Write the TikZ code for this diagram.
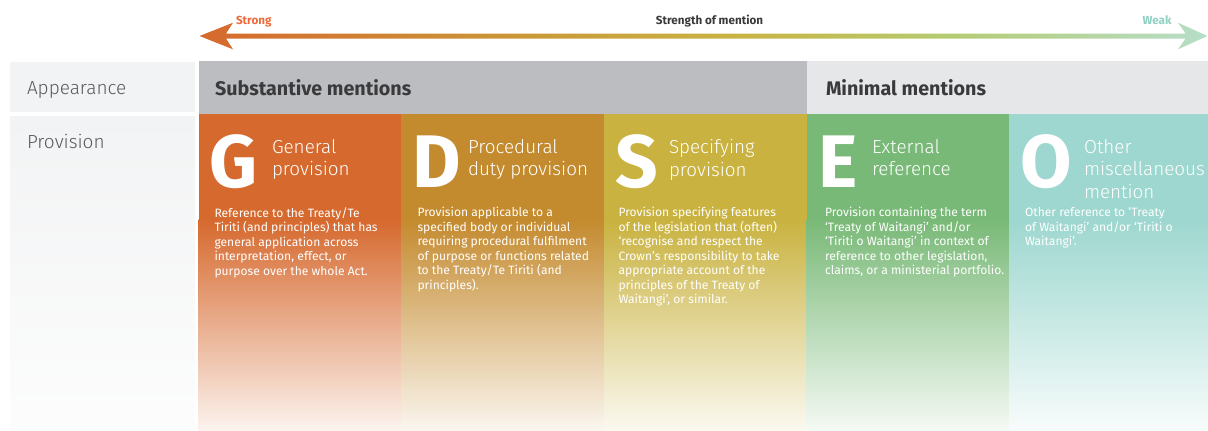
\documentclass[tikz,border=0pt]{standalone}
\usepackage{fontspec}
\setmainfont{Fira Sans}
\IfFontExistsTF{Fira Sans Light}{\newfontfamily\lightfont{Fira Sans Light}}{\newfontfamily\lightfont{Fira Sans}}
\usetikzlibrary{calc}

\definecolor{gencol}{HTML}{D6692E}
\definecolor{proccol}{HTML}{C48A2E}
\definecolor{speccol}{HTML}{C9B23F}
\definecolor{extcol}{HTML}{79B977}
\definecolor{othcol}{HTML}{9DD7CF}
\definecolor{substgrey}{HTML}{BCBDC0}
\definecolor{minigrey}{HTML}{E6E7E8}
\definecolor{labbox}{HTML}{F2F3F4}
\definecolor{labtext}{HTML}{58595B}
\definecolor{hdrtext}{HTML}{3A3A3C}
\definecolor{strongcol}{HTML}{EC6A3A}
\definecolor{weakcol}{HTML}{8ED0C1}
\definecolor{arrmid}{HTML}{C99B38}
\definecolor{arryel}{HTML}{C9B444}
\definecolor{arrgrn}{HTML}{B5CB72}
\definecolor{arrend}{HTML}{B6DEC9}

\pgfdeclarehorizontalshading{strength}{100bp}{color(0bp)=(gencol); color(25bp)=(gencol); color(42bp)=(arrmid); color(52bp)=(arryel); color(62bp)=(arrgrn); color(75bp)=(arrend); color(100bp)=(arrend)}

\begin{document}
\begin{tikzpicture}[x=0.025cm, y=-0.025cm,
		every node/.style={inner sep=0pt, outer sep=0pt},
		rowlabel/.style={anchor=base west, text=labtext, font=\lightfont\fontsize{13.5}{16}\selectfont},
		header/.style={anchor=base west, text=hdrtext, font=\fontsize{14}{16}\selectfont\bfseries},
		scalelabel/.style={anchor=base west, font=\fontsize{8.3}{10}\selectfont\bfseries},
		bigletter/.style={anchor=base west, text=white, font=\fontsize{53}{53}\selectfont\bfseries},
		title/.style={anchor=north west, align=left, text=white, font=\lightfont\fontsize{13.4}{16.3}\selectfont},
		body/.style={anchor=north west, align=left, text=white, font=\fontsize{8.6}{10.3}\selectfont}]
		
		\useasboundingbox (0,0) rectangle (1208,430);
		
		% strength arrow
		\coordinate (strong) at (199.5,36);
		\coordinate (weak) at (1207.5,36);
		\shade[shading=strength] (strong) -- ++(33.5,-13.3) -- ++(-7,11) -- ($(weak)+(-22,-2.5)$)
		-- ++(-7.5,-10.8) -- (weak) -- ++(-29.5,13.3) -- ++(7.5,-10.8) -- ($(strong)+(26.5,2.5)$)
		-- ++(7,10.8) -- cycle;
		\node[scalelabel, text=strongcol] (strongl) at (236,24) {Strong};
		\node[scalelabel, text=hdrtext, anchor=base] (scalel) at (709.5,24) {Strength of mention};
		\node[scalelabel, text=weakcol, anchor=base east] (weakl) at (1171.5,24) {Weak};
		
		% row labels and headers
		\fill[labbox] (10,62) rectangle (195,112);
		\shade[top color=labbox, bottom color=labbox!20!white] (10,116) rectangle (195,430);
		\fill[substgrey] (198.5,61) rectangle (806.6,113.7);
		\fill[minigrey] (806.6,61) rectangle (1208,113.7);
		\node[rowlabel] (appear) at (27,94) {Appearance};
		\node[rowlabel] (prov) at (27,148) {Provision};
		\node[header] (subst) at (215,95) {Substantive mentions};
		\node[header] (minim) at (826,95) {Minimal mentions};
		
		% columns
		\fill[gencol] (198.5,113.5) rectangle (401,220);
		\shade[top color=gencol, middle color=gencol!82!white, bottom color=gencol!8!white] (198.5,219.5) rectangle (401,430);
		\fill[proccol] (401,113.5) rectangle (604,220);
		\shade[top color=proccol, middle color=proccol!82!white, bottom color=proccol!8!white] (401,219.5) rectangle (604,430);
		\fill[speccol] (604,113.5) rectangle (806.6,220);
		\shade[top color=speccol, middle color=speccol!82!white, bottom color=speccol!8!white] (604,219.5) rectangle (806.6,430);
		\fill[extcol] (806.6,113.5) rectangle (1009,220);
		\shade[top color=extcol, middle color=extcol!82!white, bottom color=extcol!8!white] (806.6,219.5) rectangle (1009,430);
		\fill[othcol] (1009,113.5) rectangle (1208,220);
		\shade[top color=othcol, middle color=othcol!82!white, bottom color=othcol!8!white] (1009,219.5) rectangle (1208,430);
		
		\node[bigletter] (G) at (209.5,187) {G};
		\node[title] (Gt) at (272,139) {General\\provision};
		\node[body] (Gb) at (214.5,207.5) {Reference to the Treaty/Te\\Tiriti (and principles) that has\\general application across\\interpretation, effect, or\\purpose over the whole Act.};
		
		\node[bigletter] (D) at (412.5,187) {D};
		\node[title] (Dt) at (468,139) {Procedural\\duty provision};
		\node[body] (Db) at (417.5,207.5) {Provision applicable to a\\specified body or individual\\requiring procedural fulfilment\\of purpose or functions related\\to the Treaty/Te Tiriti (and\\principles).};
		
		\node[bigletter] (S) at (615,187) {S};
		\node[title] (St) at (669,139) {Specifying\\provision};
		\node[body] (Sb) at (618.5,207.5) {Provision specifying features\\of the legislation that (often)\\‘recognise and respect the\\Crown’s responsibility to take\\appropriate account of the\\principles of the Treaty of\\Waitangi’, or similar.};
		
		\node[bigletter] (E) at (818,187) {E};
		\node[title] (Et) at (872,139) {External\\reference};
		\node[body] (Eb) at (825,207.5) {Provision containing the term\\‘Treaty of Waitangi’ and/or\\‘Tiriti o Waitangi’ in context of\\reference to other legislation,\\claims, or a ministerial portfolio.};
		
		\node[bigletter] (O) at (1020,187) {O};
		\node[title] (Ot) at (1084,139) {Other\\miscellaneous\\mention};
		\node[body] (Ob) at (1025,207.5) {Other reference to ‘Treaty\\of Waitangi’ and/or ‘Tiriti o\\Waitangi’.};
\end{tikzpicture}
\end{document}
